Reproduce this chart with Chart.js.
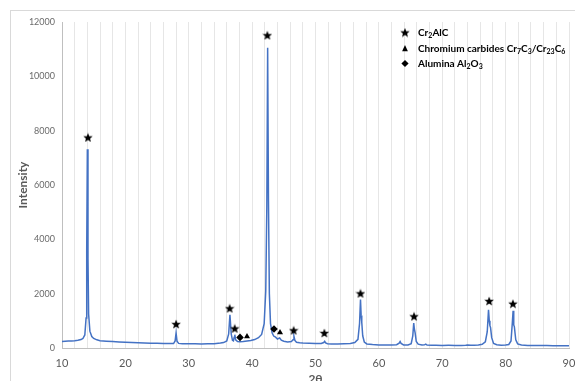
<!DOCTYPE html>
<html>
<head>
<meta charset="utf-8">
<script src="https://cdn.jsdelivr.net/npm/chart.js@4.4.1/dist/chart.umd.min.js"></script>
<style>
  html, body { margin: 0; padding: 0; background: #fff; overflow: hidden; }
  #frame { position: absolute; left: 10px; top: 10px; width: 620px; height: 420px; border: 1px solid #d9d9d9; }
  #wrap { position: absolute; left: 0; top: 0; width: 575px; height: 381px; }
</style>
</head>
<body>
<div id="frame"></div>
<div id="wrap"><canvas id="myChart" width="575" height="381"></canvas></div>
<script>
// XRD scan (2θ in degrees, intensity in counts)
const twoTheta = [
  10, 10.5, 11, 11.5, 12, 12.5, 13, 13.3, 13.6, 13.8,
  13.9, 14.0, 14.1, 14.2, 14.4, 14.7, 15, 15.5, 16, 17,
  18, 19, 20, 21, 22, 23, 24, 25, 26, 27,
  27.6, 27.85, 28.0, 28.15, 28.4, 29, 30, 31, 32, 33,
  34, 35, 35.5, 36.0, 36.3, 36.5, 36.7, 36.9, 37.05, 37.17,
  37.27, 37.4, 37.7, 38.1, 38.6, 39.2, 39.8, 40.4, 41, 41.5,
  41.9, 42.15, 42.32, 42.45, 42.58, 42.72, 42.9, 43.15, 43.4, 43.7,
  44.0, 44.35, 44.6, 45, 45.6, 46.2, 46.45, 46.6, 46.75, 47.0,
  47.5, 48, 49, 50, 50.9, 51.3, 51.45, 51.6, 51.9, 52.5,
  53.5, 54.5, 55.5, 56.2, 56.7, 56.95, 57.1, 57.2, 57.3, 57.45,
  57.7, 58.1, 59, 60, 61, 62, 62.8, 63.2, 63.35, 63.5,
  63.9, 64.6, 65.1, 65.35, 65.5, 65.6, 65.72, 65.9, 66.2, 66.8,
  67.2, 67.4, 67.6, 68.3, 69, 70, 71, 72, 73, 73.7,
  74, 74.5, 75, 75.7, 76.3, 76.8, 77.1, 77.3, 77.42, 77.52,
  77.62, 77.8, 78.1, 78.6, 79.3, 80, 80.5, 80.85, 81.05, 81.18,
  81.28, 81.38, 81.6, 81.9, 82.5, 83.5, 84.5, 85.5, 86.5, 87.5,
  88.5, 89.3, 90
];
const intensity = [
  240, 250, 255, 262, 270, 285, 310, 350, 480, 1100,
  3600, 7320, 3300, 1250, 620, 420, 350, 300, 270, 250,
  235, 222, 210, 200, 192, 185, 178, 172, 168, 163,
  165, 260, 550, 250, 170, 160, 155, 152, 150, 155,
  160, 180, 200, 260, 520, 1220, 520, 280, 260, 400,
  490, 300, 240, 230, 235, 255, 275, 310, 380, 500,
  900, 2100, 5200, 11050, 5400, 2000, 900, 560, 440, 400,
  330, 370, 290, 250, 225, 240, 300, 430, 280, 210,
  190, 180, 172, 168, 165, 200, 245, 190, 160, 150,
  150, 155, 165, 200, 320, 900, 1780, 1200, 950, 450,
  220, 150, 125, 115, 110, 110, 120, 180, 240, 170,
  115, 115, 160, 450, 920, 700, 560, 240, 140, 110,
  115, 140, 110, 100, 98, 95, 97, 94, 96, 100,
  108, 100, 102, 110, 135, 230, 600, 1407, 1000, 820,
  760, 380, 170, 120, 105, 110, 130, 260, 900, 1370,
  850, 780, 300, 150, 110, 95, 92, 90, 88, 85,
  84, 82, 80
];

// phase markers
const starTheta = [14.1, 28.0, 36.45, 37.25, 42.4, 46.55, 51.4, 57.1, 65.55, 77.4, 81.15];
const starLevel = [7750, 880, 1460, 720, 11510, 650, 550, 2010, 1165, 1730, 1630];
const triTheta = [39.19, 44.4];
const triLevel = [420, 575];
const diaTheta = [38.09, 43.45];
const diaLevel = [390, 700];

const xTicks = [10, 20, 30, 40, 50, 60, 70, 80, 90];
const yTicks = [0, 2000, 4000, 6000, 8000, 10000, 12000];

const FONT = "Lato, 'Open Sans', sans-serif";

// filled star image for the Cr2AlC markers
function makeStar(size) {
  const c = document.createElement('canvas');
  c.width = size; c.height = size;
  const g = c.getContext('2d');
  const cx = size / 2, cy = size / 2, ro = size / 2, ri = size / 4.6;
  g.beginPath();
  for (let i = 0; i < 10; i++) {
    const r = i % 2 === 0 ? ro : ri;
    const a = -Math.PI / 2 + i * Math.PI / 5;
    g.lineTo(cx + r * Math.cos(a), cy + r * Math.sin(a) + 0.4);
  }
  g.closePath();
  g.fillStyle = '#000';
  g.fill();
  return c;
}
const starImg = makeStar(10);

const toPts = (xs, ys) => xs.map((x, i) => ({x: x, y: ys[i]}));

// legend with subscripts drawn inside the plot
const legendRows = [
  {mark: 'star', parts: [['Cr', 0], ['2', 1], ['AlC', 0]]},
  {mark: 'tri', parts: [['Chromium carbides Cr', 0], ['7', 1], ['C', 0], ['3', 1], ['/Cr', 0], ['23', 1], ['C', 0], ['6', 1]]},
  {mark: 'dia', parts: [['Alumina Al', 0], ['2', 1], ['O', 0], ['3', 1]]}
];

function drawTri(ctx, x, y, r) {
  ctx.beginPath();
  ctx.moveTo(x, y - r);
  ctx.lineTo(x + r * 0.8, y + r * 0.75);
  ctx.lineTo(x - r * 0.8, y + r * 0.75);
  ctx.closePath();
  ctx.fill();
}
function drawDia(ctx, x, y, r) {
  ctx.beginPath();
  ctx.moveTo(x, y - r);
  ctx.lineTo(x + r, y);
  ctx.lineTo(x, y + r);
  ctx.lineTo(x - r, y);
  ctx.closePath();
  ctx.fill();
}

const phaseLegend = {
  id: 'phaseLegend',
  afterDraw(chart) {
    const ctx = chart.ctx;
    const rowY = [32.5, 48.5, 63.5];
    ctx.save();
    ctx.fillStyle = '#000';
    legendRows.forEach((row, i) => {
      const y = rowY[i];
      if (row.mark === 'star') ctx.drawImage(starImg, 400, y - 5);
      if (row.mark === 'tri') drawTri(ctx, 405, y, 3.6);
      if (row.mark === 'dia') drawDia(ctx, 405, y, 3.6);
      let x = 418;
      ctx.textBaseline = 'middle';
      row.parts.forEach(p => {
        ctx.font = p[1] ? 'bold 7px ' + FONT : 'bold 10px ' + FONT;
        ctx.fillText(p[0], x, p[1] ? y + 3 : y);
        x += ctx.measureText(p[0]).width;
      });
    });
    ctx.restore();
  }
};

const ctx = document.getElementById('myChart').getContext('2d');
const myChart = new Chart(ctx, {
  type: 'scatter',
  data: {
    datasets: [
      {
        label: 'XRD',
        data: toPts(twoTheta, intensity),
        showLine: true,
        borderColor: '#4472C4',
        borderWidth: 1.5,
        pointRadius: 0,
        tension: 0,
        order: 2
      },
      {
        label: 'Cr2AlC',
        data: toPts(starTheta, starLevel),
        pointStyle: starImg,
        pointRadius: 5,
        order: 1
      },
      {
        label: 'Chromium carbides',
        data: toPts(triTheta, triLevel),
        pointStyle: 'triangle',
        pointRadius: 3.5,
        backgroundColor: '#000',
        borderColor: '#000',
        borderWidth: 0,
        order: 1
      },
      {
        label: 'Alumina',
        data: toPts(diaTheta, diaLevel),
        pointStyle: 'rectRot',
        pointRadius: 3.8,
        backgroundColor: '#000',
        borderColor: '#000',
        borderWidth: 0,
        order: 1
      }
    ]
  },
  options: {
    responsive: false,
    animation: false,
    layout: { padding: { top: 22, right: 6, left: 0, bottom: 0 } },
    plugins: { legend: { display: false }, tooltip: { enabled: false } },
    scales: {
      x: {
        type: 'linear',
        min: 10,
        max: 90,
        afterBuildTicks(scale) {
          const t = [];
          for (let v = 10; v <= 90; v += 2) t.push({value: v});
          scale.ticks = t;
        },
        afterFit(scale) { scale.height = 33; scale.paddingRight = 0; scale.paddingLeft = 0; },
        ticks: {
          autoSkip: false,
          maxRotation: 0,
          padding: 9,
          color: '#595959',
          font: { family: FONT, size: 11 },
          callback: v => xTicks.includes(v) ? String(v) : ''
        },
        grid: { color: '#e6e6e6', drawTicks: false },
        border: { color: '#bfbfbf' },
        title: {
          display: true,
          text: '2θ',
          color: '#595959',
          font: { family: FONT, size: 12, weight: 'bold' },
          padding: { top: 0, bottom: -5 }
        }
      },
      y: {
        min: 0,
        max: 12000,
        afterBuildTicks(scale) { scale.ticks = yTicks.map(v => ({value: v})); },
        afterFit(scale) { scale.width = 62; },
        ticks: {
          padding: 7,
          color: '#6b6b6b',
          font: { family: FONT, size: 9 },
          callback: v => String(v)
        },
        grid: { display: false, drawTicks: false },
        border: { display: true, color: '#bfbfbf' },
        title: {
          display: true,
          text: 'Intensity',
          color: '#595959',
          font: { family: FONT, size: 12, weight: 'bold' },
          padding: { top: 16, bottom: 0 }
        }
      }
    }
  },
  plugins: [phaseLegend]
});
</script>
</body>
</html>
